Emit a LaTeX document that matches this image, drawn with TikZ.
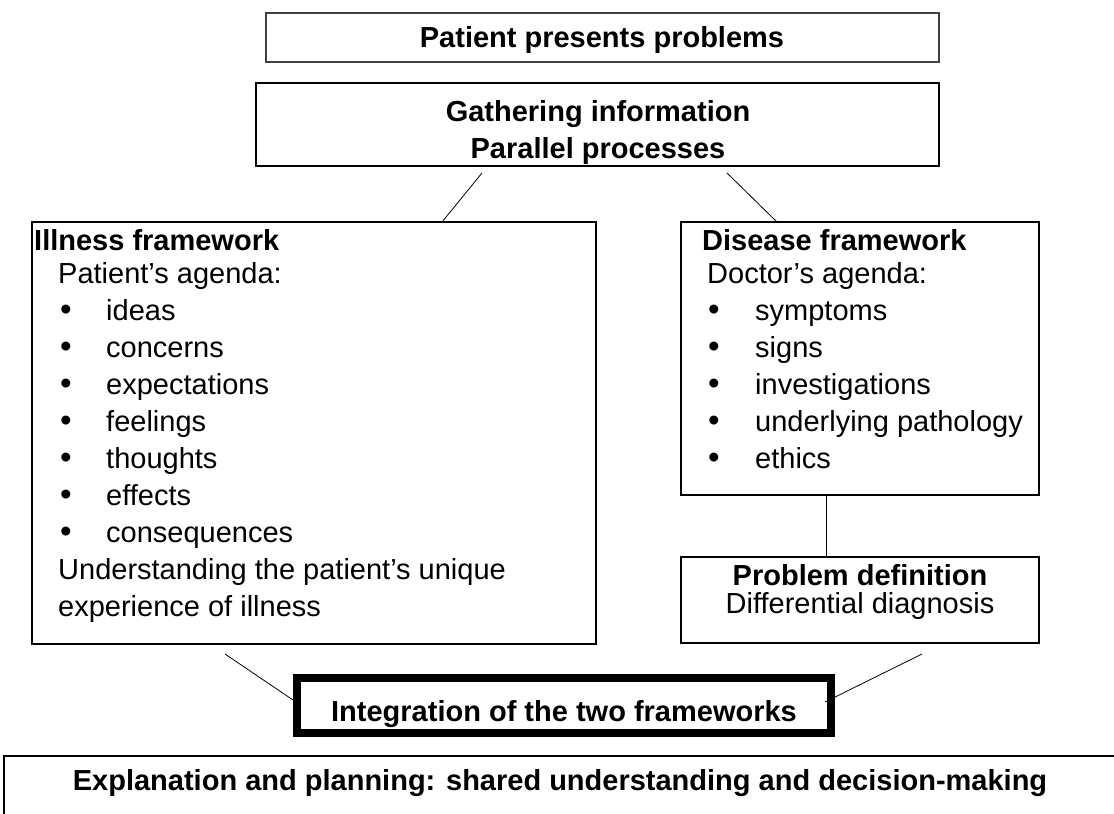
\documentclass[tikz,border=0pt]{standalone}
\usepackage{fontspec}
\setmainfont{Liberation Sans}
\begin{document}
\begin{tikzpicture}[x=1pt,y=-1pt,
  box/.style={draw=black, line width=1.4pt, inner sep=0pt},
  thickbox/.style={draw=black, line width=8pt, inner sep=0pt},
  conn/.style={draw=black, line width=0.8pt},
  body/.style={inner sep=0pt, anchor=base west, font=\fontsize{29}{37}\selectfont},
  hdr/.style={inner sep=0pt, anchor=base west, font=\bfseries\fontsize{29}{37}\selectfont},
  ttl/.style={inner sep=0pt, anchor=base, font=\bfseries\fontsize{29}{37}\selectfont},
  ctr/.style={inner sep=0pt, anchor=base, font=\fontsize{29}{37}\selectfont},
  bul/.style={inner sep=0pt, anchor=base west, font=\fontsize{33}{37}\selectfont}
]
\useasboundingbox (0,0) rectangle (1114,814);

% boxes
\node[box, draw=black!75, minimum width=673pt, minimum height=49pt] (present) at (602.5,37.5) {};
\node[box, minimum width=683pt, minimum height=83pt] (gather) at (597.5,124.5) {};
\node[box, minimum width=564pt, minimum height=422pt] (illness) at (314,433) {};
\node[box, minimum width=358pt, minimum height=273pt] (disease) at (860,358.5) {};
\node[box, minimum width=358pt, minimum height=86pt] (problem) at (860,600) {};
\node[thickbox, minimum width=534pt, minimum height=55pt] (integ) at (564,705.5) {};
\node[box, minimum width=1126pt, minimum height=80pt] (explain) at (567,796) {};

% titles
\node[ttl] (tpresent) at (602,47) {Patient presents problems};
\node[ttl] (tgather1) at (598,121) {Gathering information};
\node[ttl] (tgather2) at (598,158) {Parallel processes};
\node[ttl] (tinteg) at (564,721) {Integration of the two frameworks};
\node[ttl] (texplain) at (560,790) {Explanation and planning: shared understanding and decision-making};

% illness framework
\node[hdr] (ih) at (34,250) {Illness framework};
\node[body] (ia) at (58,283) {Patient’s agenda:};
\foreach \t/\yy [count=\i] in {ideas/320, concerns/357, expectations/394, feelings/431, thoughts/468, effects/505, consequences/542}{
  \node[bul] (ib\i) at (60,\yy) {•};
  \node[body] (it\i) at (106,\yy) {\t};
}
\node[body] (iu1) at (58,579) {Understanding the patient’s unique};
\node[body] (iu2) at (58,616) {experience of illness};

% disease framework
\node[hdr] (dh) at (702,250) {Disease framework};
\node[body] (da) at (707,283) {Doctor’s agenda:};
\foreach \t/\yy [count=\i] in {symptoms/320, signs/357, investigations/394, underlying pathology/431, ethics/468}{
  \node[bul] (db\i) at (708,\yy) {•};
  \node[body] (dt\i) at (755,\yy) {\t};
}

% problem definition
\node[ttl] (ph) at (860,585) {Problem definition};
\node[ctr] (pd) at (860,613) {Differential diagnosis};

% connectors
\coordinate (g1) at (482,173);
\coordinate (g2) at (727,173);
\coordinate (i1) at (442,222);
\coordinate (d1) at (777,222);
\coordinate (d2) at (826,495);
\coordinate (p1) at (826,557);
\coordinate (il) at (225,654);
\coordinate (el) at (293,700);
\coordinate (pr) at (922,654);
\coordinate (er) at (825,702);
\draw[conn] (g1) -- (i1);
\draw[conn] (g2) -- (d1);
\draw[conn] (d2) -- (p1);
\draw[conn] (il) -- (el);
\draw[conn] (pr) -- (er);
\end{tikzpicture}
\end{document}
